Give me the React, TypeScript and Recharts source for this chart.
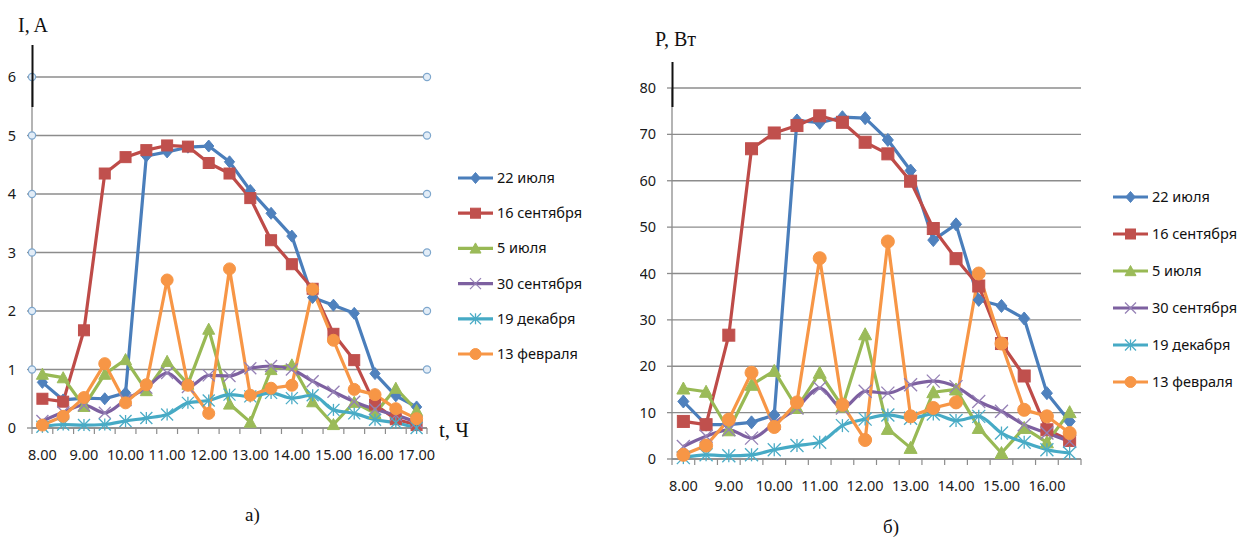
import React from "react";
import { LineChart, Line, XAxis, YAxis, CartesianGrid } from "recharts";

// время суток
const timesA = ["8.00", "8.30", "9.00", "9.30", "10.00", "10.30", "11.00", "11.30", "12.00", "12.30", "13.00", "13.30", "14.00", "14.30", "15.00", "15.30", "16.00", "16.30", "17.00"];
const timesB = ["8.00", "8.30", "9.00", "9.30", "10.00", "10.30", "11.00", "11.30", "12.00", "12.30", "13.00", "13.30", "14.00", "14.30", "15.00", "15.30", "16.00", "16.30"];

const seriesNames = ["22 июля", "16 сентября", "5 июля", "30 сентября", "19 декабря", "13 февраля"];

// а) ток, А
const iJul22 = [0.78, 0.48, 0.51, 0.5, 0.6, 4.65, 4.72, 4.8, 4.82, 4.55, 4.06, 3.67, 3.28, 2.23, 2.1, 1.96, 0.93, 0.55, 0.36];
const iSep16 = [0.5, 0.45, 1.67, 4.35, 4.63, 4.75, 4.83, 4.81, 4.53, 4.35, 3.93, 3.21, 2.8, 2.38, 1.61, 1.16, 0.4, 0.15, 0.05];
const iJul5 = [0.92, 0.86, 0.37, 0.92, 1.17, 0.64, 1.14, 0.75, 1.69, 0.41, 0.1, 1.0, 1.08, 0.45, 0.06, 0.44, 0.25, 0.68, 0.3];
const iSep30 = [0.12, 0.27, 0.39, 0.26, 0.48, 0.69, 0.94, 0.7, 0.9, 0.89, 1.02, 1.06, 1.0, 0.8, 0.62, 0.45, 0.32, 0.22, 0.1];
const iDec19 = [0.02, 0.06, 0.05, 0.06, 0.12, 0.17, 0.23, 0.43, 0.47, 0.57, 0.54, 0.6, 0.51, 0.56, 0.31, 0.25, 0.14, 0.09, 0.0];
const iFeb13 = [0.05, 0.2, 0.52, 1.1, 0.43, 0.74, 2.53, 0.73, 0.25, 2.72, 0.56, 0.68, 0.73, 2.37, 1.5, 0.66, 0.57, 0.33, 0.16];

// б) мощность, Вт
const pJul22 = [12.4, 7.4, 7.4, 7.9, 9.5, 73.0, 72.5, 73.7, 73.5, 68.8, 62.2, 47.2, 50.6, 34.3, 33.0, 30.3, 14.2, 8.1];
const pSep16 = [8.1, 7.4, 26.7, 66.9, 70.3, 71.9, 74.0, 72.6, 68.3, 65.8, 59.9, 49.7, 43.2, 37.3, 24.9, 17.9, 6.3, 4.0];
const pJul5 = [15.2, 14.5, 6.2, 16.0, 19.0, 11.0, 18.6, 11.3, 26.9, 6.5, 2.4, 14.4, 15.0, 6.7, 1.3, 6.7, 3.6, 10.1];
const pSep30 = [2.7, 4.9, 6.3, 4.5, 7.7, 11.0, 15.3, 11.0, 14.6, 14.2, 16.0, 16.8, 15.6, 12.4, 10.3, 7.4, 5.6, 3.8];
const pDec19 = [0.3, 0.9, 0.7, 0.9, 2.0, 2.9, 3.6, 7.2, 8.6, 9.5, 8.8, 9.7, 8.3, 9.2, 5.6, 3.6, 2.0, 1.3];
const pFeb13 = [0.9, 2.9, 8.5, 18.6, 6.9, 12.2, 43.3, 11.7, 4.1, 46.9, 9.2, 11.0, 12.2, 40.0, 24.9, 10.6, 9.2, 5.6];

const yTicksA = [0, 1, 2, 3, 4, 5, 6];
const yTicksB = [0, 10, 20, 30, 40, 50, 60, 70, 80];

const seriesA = [iJul22, iSep16, iJul5, iSep30, iDec19, iFeb13];
const seriesB = [pJul22, pSep16, pJul5, pSep30, pDec19, pFeb13];

const styles = [
  { line: "#4A7EBB", mark: "#4F81BD", shape: "diamond", curve: "linear" },
  { line: "#BE4B48", mark: "#C0504D", shape: "square", curve: "linear" },
  { line: "#98B954", mark: "#9BBB59", shape: "triangle", curve: "linear" },
  { line: "#7D60A0", mark: "#9580B5", shape: "x", curve: "monotone" },
  { line: "#46AAC5", mark: "#4BACC6", shape: "star", curve: "monotone" },
  { line: "#F79646", mark: "#F79646", shape: "circle", curve: "linear" },
];

const rowsA = timesA.map((t, i) => {
  const row: any = { t };
  seriesA.forEach((s, k) => (row["s" + k] = s[i]));
  return row;
});
const rowsB = timesB.map((t, i) => {
  const row: any = { t };
  seriesB.forEach((s, k) => (row["s" + k] = s[i]));
  return row;
});

const axisColor = "#8c8c8c";
const font = '"Noto Sans", sans-serif';
const serif = '"Liberation Serif", "DejaVu Serif", serif';

function Marker({ shape, cx, cy, color, size }: any) {
  const h = size / 2;
  switch (shape) {
    case "diamond":
      return <polygon points={`${cx},${cy - h} ${cx + h * 0.85},${cy} ${cx},${cy + h} ${cx - h * 0.85},${cy}`} fill={color} stroke={color} strokeWidth={1} />;
    case "square":
      return <rect x={cx - h + 0.5} y={cy - h + 0.5} width={size - 1} height={size - 1} fill={color} stroke={color} strokeWidth={1} />;
    case "triangle":
      return <polygon points={`${cx},${cy - h} ${cx + h},${cy + h * 0.85} ${cx - h},${cy + h * 0.85}`} fill={color} stroke={color} strokeWidth={1} />;
    case "x":
      return (
        <g stroke={color} strokeWidth={1.3}>
          <line x1={cx - h} y1={cy - h} x2={cx + h} y2={cy + h} />
          <line x1={cx - h} y1={cy + h} x2={cx + h} y2={cy - h} />
        </g>
      );
    case "star":
      return (
        <g stroke={color} strokeWidth={1.3}>
          <line x1={cx - h} y1={cy - h} x2={cx + h} y2={cy + h} />
          <line x1={cx - h} y1={cy + h} x2={cx + h} y2={cy - h} />
          <line x1={cx} y1={cy - h} x2={cx} y2={cy + h} />
        </g>
      );
    default:
      return <circle cx={cx} cy={cy} r={h} fill={color} stroke={color} strokeWidth={1} />;
  }
}

function XTick(props: any) {
  const { x, y, payload, half, count } = props;
  const index = props.index ?? payload.index;
  const label = String(payload.value);
  return (
    <g>
      <line x1={x - half} x2={x - half} y1={y} y2={y + 6} stroke={axisColor} strokeWidth={1.2} />
      {index === count - 1 && <line x1={x + half} x2={x + half} y1={y} y2={y + 6} stroke={axisColor} strokeWidth={1.2} />}
      {label.endsWith(".00") && (
        <text x={x} y={y + 32} textAnchor="middle" fontFamily={font} fontSize={14.5} fill="#1a1a1a">
          {label}
        </text>
      )}
    </g>
  );
}

function YTick(props: any) {
  const { x, y, payload, plotW, handles } = props;
  const ax = x + 16;
  return (
    <g>
      <text x={x} y={y + 5} textAnchor="end" fontFamily={font} fontSize={14.5} fill="#1a1a1a">
        {payload.value}
      </text>
      {handles && payload.value > 0 && (
        <g fill="#e3edf7" stroke="#7ea7cd" strokeWidth={1.2}>
          <circle cx={ax} cy={y} r={3.6} />
          <circle cx={ax + plotW} cy={y} r={3.6} />
        </g>
      )}
    </g>
  );
}

function renderLines(size: number) {
  return styles.map((st, k) => (
    <Line
      key={k}
      dataKey={"s" + k}
      type={st.curve as any}
      stroke={st.line}
      strokeWidth={3.2}
      strokeLinejoin="round"
      isAnimationActive={false}
      dot={(p: any) => (
        <g key={"d" + k + "-" + p.index}>
          <Marker shape={st.shape} cx={p.cx} cy={p.cy} color={st.mark} size={size} />
        </g>
      )}
      activeDot={false}
    />
  ));
}

function Legend({ x, y0, gap }: any) {
  return (
    <g>
      {seriesNames.map((name, k) => {
        const cy = y0 + k * gap;
        return (
          <g key={name}>
            <line x1={x} x2={x + 35} y1={cy} y2={cy} stroke={styles[k].line} strokeWidth={3.2} />
            <Marker shape={styles[k].shape} cx={x + 17.5} cy={cy} color={styles[k].mark} size={11} />
            <text x={x + 39} y={cy + 5} fontFamily={font} fontSize={14.5} fill="#111">
              {name}
            </text>
          </g>
        );
      })}
    </g>
  );
}

export default function App() {
  const plotWA = 395;
  const plotWB = 409;
  const halfA = plotWA / timesA.length / 2;
  const halfB = plotWB / timesB.length / 2;

  return (
    <div style={{ position: "absolute", left: 0, top: 0, width: 1242, height: 537, background: "#fff", overflow: "hidden" }}>
      <div style={{ position: "absolute", left: 0, top: 0 }}>
        <LineChart width={440} height={470} data={rowsA} margin={{ top: 77, right: 13, bottom: 12, left: 0 }}>
          <CartesianGrid vertical={false} stroke={axisColor} strokeWidth={1.3} />
          <XAxis
            dataKey="t"
            height={30}
            interval={0}
            padding={{ left: halfA, right: halfA }}
            tickSize={0}
            tickMargin={0}
            tickLine={false}
            stroke={axisColor}
            strokeWidth={1.3}
            tick={(p: any) => <XTick {...p} half={halfA} count={timesA.length} />}
          />
          <YAxis
            width={32}
            domain={[0, 6]}
            ticks={yTicksA}
            interval={0}
            tickSize={5}
            tickMargin={11}
            stroke={axisColor}
            strokeWidth={1.3}
            tick={(p: any) => <YTick {...p} plotW={plotWA} handles />}
          />
          {renderLines(12)}
        </LineChart>
      </div>

      <div style={{ position: "absolute", left: 640, top: 0 }}>
        <LineChart width={460} height={495} data={rowsB} margin={{ top: 88, right: 19, bottom: 6, left: 0 }}>
          <CartesianGrid vertical={false} stroke={axisColor} strokeWidth={1.3} />
          <XAxis
            dataKey="t"
            height={30}
            interval={0}
            padding={{ left: halfB, right: halfB }}
            tickSize={0}
            tickMargin={0}
            tickLine={false}
            stroke={axisColor}
            strokeWidth={1.3}
            tick={(p: any) => <XTick {...p} half={halfB} count={timesB.length} />}
          />
          <YAxis
            width={32}
            domain={[0, 80]}
            ticks={yTicksB}
            interval={0}
            tickSize={5}
            tickMargin={11}
            stroke={axisColor}
            strokeWidth={1.3}
            tick={(p: any) => <YTick {...p} plotW={plotWB} handles={false} />}
          />
          {renderLines(13)}
        </LineChart>
      </div>

      <svg width={1242} height={537} style={{ position: "absolute", left: 0, top: 0, pointerEvents: "none" }}>
        <line x1={32.5} x2={32.5} y1={45} y2={107} stroke="#111" strokeWidth={2} />
        <line x1={672.5} x2={672.5} y1={62} y2={107} stroke="#111" strokeWidth={2} />
        <text x={18} y={32} fontFamily={serif} fontSize={20} fill="#111">I, A</text>
        <text x={655} y={46} fontFamily={serif} fontSize={20} fill="#111">P, Вт</text>
        <text x={439} y={437} fontFamily={serif} fontSize={21} fill="#111">t, Ч</text>
        <text x={245} y={521} fontFamily={serif} fontSize={19} fill="#111">а)</text>
        <text x={883} y={533} fontFamily={serif} fontSize={19} fill="#111">б)</text>
        <Legend x={458} y0={178} gap={35.2} />
        <Legend x={1113} y0={197} gap={37} />
      </svg>
    </div>
  );
}
